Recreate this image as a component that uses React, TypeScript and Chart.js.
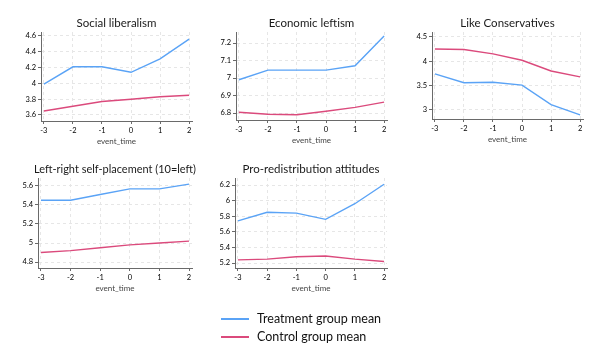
import React, { useEffect, useRef } from "react";
import { Chart, registerables } from "chart.js";

Chart.register(...registerables);

// ---- Data ----
const eventTime = [-3, -2, -1, 0, 1, 2];

const socialLibTreatment = [3.99, 4.21, 4.21, 4.14, 4.31, 4.56];
const socialLibControl = [3.65, 3.71, 3.77, 3.8, 3.83, 3.85];
const socialLibTicks = [3.6, 3.8, 4, 4.2, 4.4, 4.6];

const econLeftTreatment = [6.99, 7.045, 7.045, 7.045, 7.07, 7.24];
const econLeftControl = [6.804, 6.793, 6.79, 6.81, 6.832, 6.862];
const econLeftTicks = [6.8, 6.9, 7, 7.1, 7.2];

const likeConsTreatment = [3.74, 3.56, 3.57, 3.51, 3.11, 2.9];
const likeConsControl = [4.25, 4.24, 4.15, 4.02, 3.8, 3.68];
const likeConsTicks = [3, 3.5, 4, 4.5];

const leftRightTreatment = [5.45, 5.45, 5.51, 5.57, 5.57, 5.62];
const leftRightControl = [4.9, 4.92, 4.95, 4.98, 5.0, 5.02];
const leftRightTicks = [4.8, 5, 5.2, 5.4, 5.6];

const proRedistTreatment = [5.74, 5.85, 5.84, 5.76, 5.96, 6.21];
const proRedistControl = [5.24, 5.25, 5.28, 5.29, 5.25, 5.22];
const proRedistTicks = [5.2, 5.4, 5.6, 5.8, 6, 6.2];

const seriesLabels = ["Treatment group mean", "Control group mean"];

// ---- Styles ----
const BLUE = "#5aa3f6";
const PINK = "#db4a7c";
const GRID = "#e6e6e6";
const AXIS = "#6a6a6a";
const FONT = "Lato";

type PanelCfg = {
  title: string;
  treat: number[];
  ctrl: number[];
  ticks: number[];
  yMin: number;
  yMax: number;
  L: number;
  T: number;
  R: number;
  B: number;
};

const panels: PanelCfg[] = [
  { title: "Social liberalism", treat: socialLibTreatment, ctrl: socialLibControl, ticks: socialLibTicks, yMin: 3.524, yMax: 4.65, L: 41, T: 32, R: 192, B: 121 },
  { title: "Economic leftism", treat: econLeftTreatment, ctrl: econLeftControl, ticks: econLeftTicks, yMin: 6.76, yMax: 7.263, L: 236, T: 32, R: 387, B: 120 },
  { title: "Like Conservatives", treat: likeConsTreatment, ctrl: likeConsControl, ticks: likeConsTicks, yMin: 2.815, yMax: 4.6, L: 432, T: 32, R: 583, B: 119 },
  { title: "Left-right self-placement (10=left)", treat: leftRightTreatment, ctrl: leftRightControl, ticks: leftRightTicks, yMin: 4.737, yMax: 5.684, L: 38, T: 178, R: 192, B: 268 },
  { title: "Pro-redistribution attitudes", treat: proRedistTreatment, ctrl: proRedistControl, ticks: proRedistTicks, yMin: 5.136, yMax: 6.29, L: 235, T: 178, R: 387, B: 268 },
];

const PAD_T = 22;
const PAD_R = 12;
const WY = 40;
const HX = 25;

const panelTitlePlugin = {
  id: "panelTitle",
  afterDraw(chart: any, _args: any, opts: any) {
    const { ctx, chartArea } = chart;
    ctx.save();
    ctx.fillStyle = opts.color || "#1a1a1a";
    ctx.font = `${opts.size || 12}px ${FONT}`;
    ctx.textAlign = "center";
    ctx.textBaseline = "middle";
    ctx.fillText(
      opts.text || "",
      (chartArea.left + chartArea.right) / 2,
      chartArea.top - 9,
      chartArea.right - chartArea.left + 8
    );
    ctx.restore();
  },
};

function Panel({ p }: { p: PanelCfg }) {
  const ref = useRef<HTMLCanvasElement>(null);
  const left = p.L - WY;
  const top = p.T - PAD_T;
  const width = p.R - left + PAD_R;
  const height = p.B - top + HX;

  useEffect(() => {
    if (!ref.current) return;
    const chart = new Chart(ref.current, {
      type: "line",
      data: {
        datasets: [
          {
            label: seriesLabels[0],
            data: eventTime.map((x, i) => ({ x, y: p.treat[i] })),
            borderColor: BLUE,
            borderWidth: 1.4,
            pointRadius: 0,
            tension: 0,
            fill: false,
          },
          {
            label: seriesLabels[1],
            data: eventTime.map((x, i) => ({ x, y: p.ctrl[i] })),
            borderColor: PINK,
            borderWidth: 1.4,
            pointRadius: 0,
            tension: 0,
            fill: false,
          },
        ],
      },
      options: {
        responsive: false,
        animation: false,
        events: [],
        layout: { padding: { left: 0, top: PAD_T, right: PAD_R, bottom: 0 } },
        plugins: {
          legend: { display: false },
          tooltip: { enabled: false },
          title: { display: false },
          panelTitle: { text: p.title, size: 11.5, color: "#1a1a1a" },
        },
        scales: {
          x: {
            type: "linear",
            min: -3.1,
            max: 2.1,
            afterBuildTicks: (s: any) => {
              s.ticks = eventTime.map((v) => ({ value: v }));
            },
            afterFit: (s: any) => {
              s.height = HX;
            },
            ticks: {
              font: { family: FONT, size: 7.5 },
              color: "#000",
              padding: 2,
              maxRotation: 0,
              autoSkip: false,
              callback: (v: any) => String(v),
            },
            grid: { color: GRID, tickColor: AXIS, tickLength: 3 },
            border: { color: AXIS, width: 1, dash: [3, 3] },
            title: {
              display: true,
              text: "event_time",
              font: { family: FONT, size: 8 },
              color: "#444",
              padding: 0,
            },
          },
          y: {
            min: p.yMin,
            max: p.yMax,
            afterBuildTicks: (s: any) => {
              s.ticks = p.ticks.map((v) => ({ value: v }));
            },
            afterFit: (s: any) => {
              s.width = WY;
            },
            ticks: {
              font: { family: FONT, size: 7.5 },
              color: "#000",
              padding: 2,
              autoSkip: false,
              callback: (v: any) => String(v),
            },
            grid: { color: GRID, tickColor: AXIS, tickLength: 3 },
            border: { color: AXIS, width: 1, dash: [3, 3] },
          },
        },
      },
      plugins: [panelTitlePlugin],
    } as any);
    return () => chart.destroy();
  }, []);

  return (
    <canvas
      ref={ref}
      width={width}
      height={height}
      style={{ position: "absolute", left, top, width, height }}
    />
  );
}

export default function App() {
  const legendItems = [
    { label: seriesLabels[0], color: BLUE, y: 319 },
    { label: seriesLabels[1], color: PINK, y: 337 },
  ];
  return (
    <div
      style={{
        position: "absolute",
        left: 0,
        top: 0,
        width: 602,
        height: 361,
        background: "#fff",
        overflow: "hidden",
      }}
    >
      {panels.map((p, i) => (
        <Panel key={i} p={p} />
      ))}
      {legendItems.map((it, i) => (
        <React.Fragment key={i}>
          <div
            style={{
              position: "absolute",
              left: 221,
              top: it.y - 1,
              width: 28,
              height: 1.6,
              background: it.color,
            }}
          />
          <div
            style={{
              position: "absolute",
              left: 257,
              top: it.y - 9,
              height: 18,
              lineHeight: "18px",
              fontFamily: FONT,
              fontSize: 12.5,
              color: "#111",
              whiteSpace: "nowrap",
            }}
          >
            {it.label}
          </div>
        </React.Fragment>
      ))}
    </div>
  );
}
